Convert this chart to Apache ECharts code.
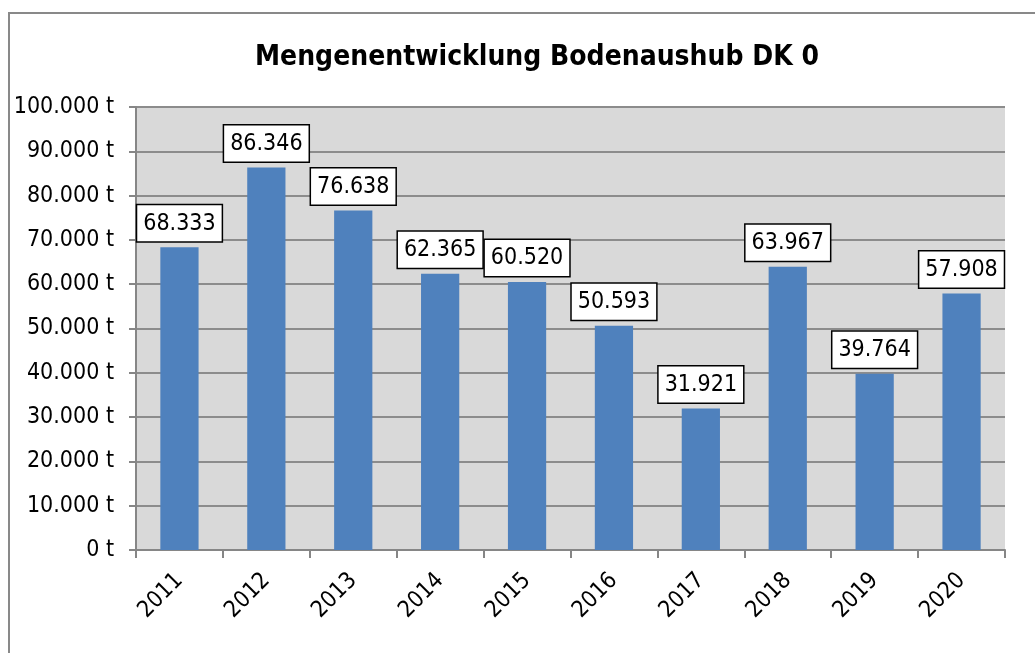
<!DOCTYPE html>
<html>
<head>
<meta charset="utf-8">
<script src="https://cdn.jsdelivr.net/npm/echarts@6/dist/echarts.min.js"></script>
<style>
  html, body { margin: 0; padding: 0; background: #fff; }
  #chart { width: 1035px; height: 653px; }
</style>
</head>
<body>
<div id="chart"></div>
<script>
var years = ['2011', '2012', '2013', '2014', '2015', '2016', '2017', '2018', '2019', '2020'];
var mengen = [68333, 86346, 76638, 62365, 60520, 50593, 31921, 63967, 39764, 57908];

var FONT = '"DejaVu Sans Condensed", "DejaVu Sans", sans-serif';

function fmt(v) {
    return String(v).replace(/\B(?=(\d{3})+(?!\d))/g, '.');
}

var myChart = echarts.init(document.getElementById('chart'));
myChart.setOption({
    animation: false,
    title: {
        text: 'Mengenentwicklung Bodenaushub DK 0',
        left: 250,
        top: 39,
        textStyle: { fontFamily: FONT, fontSize: 28, fontWeight: 'bold', color: '#000' }
    },
    graphic: [{
        type: 'rect',
        shape: { x: 9, y: 13, width: 1100, height: 700 },
        style: { fill: 'none', stroke: '#898989', lineWidth: 2 },
        silent: true
    }],
    grid: {
        left: 136, right: 30, top: 107, bottom: 103,
        show: true, backgroundColor: '#d9d9d9', borderWidth: 0
    },
    xAxis: {
        type: 'category',
        data: years,
        axisLine: { lineStyle: { color: '#868686', width: 2 } },
        axisTick: { show: true, length: 8, lineStyle: { color: '#868686', width: 2 } },
        axisLabel: { rotate: 45, margin: 27, fontFamily: FONT, fontSize: 23, color: '#000' }
    },
    yAxis: {
        type: 'value',
        min: 0, max: 100000, interval: 10000,
        axisLine: { show: true, lineStyle: { color: '#868686', width: 2 } },
        axisTick: { show: true, length: 7, lineStyle: { color: '#868686', width: 2 } },
        splitLine: { lineStyle: { color: '#8c8c8c', width: 2 } },
        axisLabel: {
            margin: 22, fontFamily: FONT, fontSize: 23, color: '#000',
            formatter: function (v) { return fmt(v) + ' t'; }
        }
    },
    series: [{
        type: 'bar',
        data: mengen,
        barWidth: '44%',
        itemStyle: { color: '#4f81bd' },
        label: {
            show: true,
            position: 'top',
            distance: 6,
            fontFamily: FONT, fontSize: 23, color: '#000',
            backgroundColor: '#fff',
            borderColor: '#000', borderWidth: 1.5,
            padding: [7, 6, 6, 6],
            formatter: function (p) { return fmt(p.value); }
        }
    }]
});
</script>
</body>
</html>
